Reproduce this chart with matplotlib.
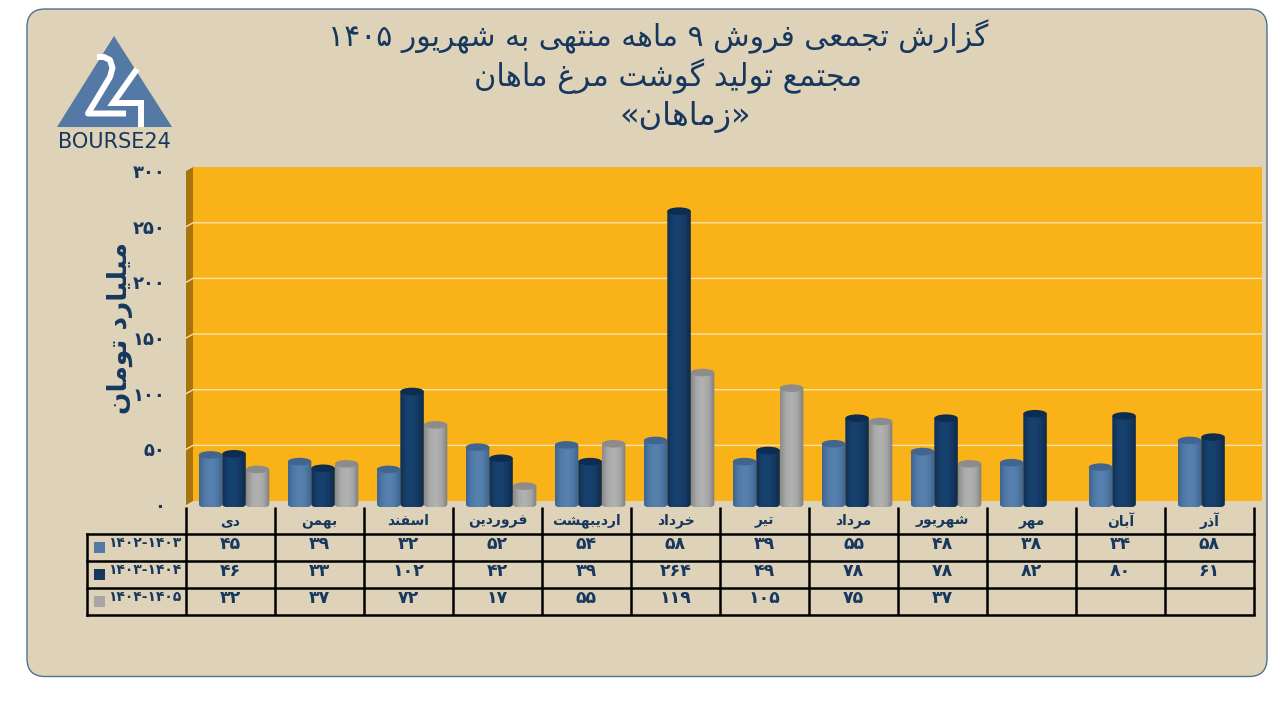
import numpy as np
import matplotlib
matplotlib.use('Agg')
import matplotlib.pyplot as plt
from matplotlib.colors import LinearSegmentedColormap
from matplotlib.patches import FancyBboxPatch, Polygon, Rectangle, Ellipse
from matplotlib.path import Path

months = ['دی', 'بهمن', 'اسفند', 'فروردین', 'اردیبهشت', 'خرداد', 'تیر', 'مرداد', 'شهریور', 'مهر', 'آبان', 'آذر']
series_names = ['1402-1403', '1403-1404', '1404-1405']
sales_1 = [45, 39, 32, 52, 54, 58, 39, 55, 48, 38, 34, 58]
sales_2 = [46, 33, 102, 42, 39, 264, 49, 78, 78, 82, 80, 61]
sales_3 = [32, 37, 72, 17, 55, 119, 105, 75, 37, None, None, None]
y_ticks = [0, 50, 100, 150, 200, 250, 300]
title_lines = ['گزارش تجمعی فروش ۹ ماهه منتهی به شهریور ۱۴۰۵', 'مجتمع تولید گوشت مرغ ماهان', '«زماهان»']
y_label = 'میلیارد تومان'

NAVY = '#17375E'
BG = '#DED3B8'

# presentation forms: isolated, final, initial, medial (two forms = no joining to the next letter)
FORMS = {
    'ا': 'ﺍﺎ', 'آ': 'ﺁﺂ', 'د': 'ﺩﺪ', 'ذ': 'ﺫﺬ', 'ر': 'ﺭﺮ', 'ز': 'ﺯﺰ', 'و': 'ﻭﻮ',
    'ب': 'ﺏﺐﺑﺒ', 'پ': 'ﭖﭗﭘﭙ', 'ت': 'ﺕﺖﺗﺘ', 'ج': 'ﺝﺞﺟﺠ', 'خ': 'ﺥﺦﺧﺨ', 'س': 'ﺱﺲﺳﺴ',
    'ش': 'ﺵﺶﺷﺸ', 'ع': 'ﻉﻊﻋﻌ', 'ف': 'ﻑﻒﻓﻔ', 'ق': 'ﻕﻖﻗﻘ', 'ک': 'ﮎﮏﮐﮑ', 'گ': 'ﮒﮓﮔﮕ',
    'ل': 'ﻝﻞﻟﻠ', 'م': 'ﻡﻢﻣﻤ', 'ن': 'ﻥﻦﻧﻨ', 'ه': 'ﻩﻪﻫﻬ', 'ی': 'ﯼﯽﯾﯿ',
}
MIRROR = {'«': '»', '»': '«'}


def fa_digits(value):
    return str(value).translate(str.maketrans('0123456789', '۰۱۲۳۴۵۶۷۸۹'))


# matplotlib has no shaping or bidi, so join the letters and lay them out right to left
def shape(text):
    words = []
    for word in text.split(' '):
        out = ''
        for i, ch in enumerate(word):
            forms = FORMS.get(ch)
            if forms is None:
                out += MIRROR.get(ch, ch)
                continue
            prev = FORMS.get(word[i - 1]) if i > 0 else None
            nxt = FORMS.get(word[i + 1]) if i < len(word) - 1 else None
            join_prev = prev is not None and len(prev) == 4
            join_next = nxt is not None and len(forms) == 4
            if join_prev and join_next:
                out += forms[3]
            elif join_next:
                out += forms[2]
            elif join_prev:
                out += forms[1]
            else:
                out += forms[0]
        if not any(c in FORMS or c in MIRROR for c in word):
            words.append(out)
        else:
            words.append(out[::-1])
    return ' '.join(words[::-1])


fig = plt.figure(figsize=(12.8, 7.2), dpi=100, facecolor='white')

# background layer in pixel coordinates: card, logo, titles, table
bg = fig.add_axes([0, 0, 1, 1], zorder=0)
bg.set_xlim(0, 1280)
bg.set_ylim(720, 0)
bg.axis('off')

bg.add_patch(FancyBboxPatch((27, 9), 1240, 667.5, boxstyle='round,pad=0,rounding_size=18',
                            fc=BG, ec='#4F7290', lw=1))

# logo
bg.add_patch(Polygon([(114, 36), (172, 127), (57, 127)], fc='#5479A5', ec='none'))
bg.plot([97, 104, 110, 112.5, 110, 88, 126], [57, 57, 60, 68, 77, 113.5, 113.5], color='white', lw=4.3,
        solid_joinstyle='round', solid_capstyle='butt')
bg.plot([137, 113, 141, 141], [69, 103, 103, 127], color='white', lw=4.3,
        solid_joinstyle='miter', solid_capstyle='butt')
bg.text(114, 142, 'BOURSE24', color=NAVY, fontsize=15, ha='center', va='center')

# titles
bg.text(658, 37, shape(title_lines[0]), color=NAVY, fontsize=21.5, ha='center', va='center')
bg.text(668, 76, shape(title_lines[1]), color=NAVY, fontsize=22, ha='center', va='center')
bg.text(685, 117, shape(title_lines[2]), color=NAVY, fontsize=23, ha='center', va='center')

bg.text(120, 328, shape(y_label), color=NAVY, fontsize=19, fontweight='bold',
        rotation=90, ha='center', va='center')

# data table under the chart
CELL = 89
X0 = 186
row_lines = [534, 561, 588, 615]
for y in row_lines:
    bg.plot([87, X0 + 12 * CELL], [y, y], color='black', lw=1.8, solid_capstyle='projecting')
bg.plot([87, 87], [534, 615], color='black', lw=1.8)
for i in range(13):
    bg.plot([X0 + i * CELL] * 2, [507, 615], color='black', lw=1.8, solid_capstyle='butt')

series = [sales_1, sales_2, sales_3]
swatch_colors = ['#5479A5', '#17375E', '#A6A6A6']
for r, values in enumerate(series):
    y_mid = row_lines[r] + 10
    bg.add_patch(Rectangle((94, row_lines[r] + 8), 11, 11, fc=swatch_colors[r], ec='none'))
    bg.text(145, y_mid - 1, fa_digits(series_names[r]), color=NAVY, fontsize=10, fontweight='bold', ha='center', va='center')
    for i, v in enumerate(values):
        if v is not None:
            bg.text(X0 + (i + 0.5) * CELL, y_mid, fa_digits(v), color=NAVY, fontsize=12.5,
                    fontweight='bold', ha='center', va='center')
for i, m in enumerate(months):
    bg.text(X0 + (i + 0.5) * CELL, 521, shape(m), color=NAVY, fontsize=10, fontweight='bold', ha='center', va='center')

# chart layer: one x unit is a table cell, y = 0 sits on the front edge of the floor
ax = fig.add_axes([186 / 1280, 1 - 507 / 720, (1262 - 186) / 1280, (507 - 167) / 720], zorder=1)
ax.patch.set_alpha(0)
PX_Y = 1.113
xmin, xmax = -0.5, (1262 - 186) / CELL - 0.5
ylim = (-2 / PX_Y, 338 / PX_Y)
DX, DY = 7 / CELL, 4 / PX_Y

ax.add_patch(Rectangle((xmin + DX, DY), xmax - xmin - DX, 300, fc='#FAB219', ec='none', zorder=1))
ax.add_patch(Polygon([(xmin, 0), (xmin + DX, DY), (xmin + DX, 300 + DY), (xmin, 300)], fc='#A8740E', ec='none', zorder=1))
for t in y_ticks[1:-1]:
    ax.plot([xmin, xmin + DX, xmax], [t, t + DY, t + DY], color='#F8E0A8', lw=1.0, zorder=2)

bar_w = 23.5 / CELL
offsets = [-23.5 / CELL + 0.04, 0.04, 23.5 / CELL + 0.04]
body_cmaps = [
    LinearSegmentedColormap.from_list('s1', ['#3F6590', '#507BA9', '#5782B0', '#507AA6', '#3D618B']),
    LinearSegmentedColormap.from_list('s2', ['#102E52', '#16406D', '#17416F', '#143A64', '#0E2A4A']),
    LinearSegmentedColormap.from_list('s3', ['#8A8A8A', '#AAAAAA', '#B2B2B2', '#A6A6A6', '#7C7C7C']),
]
top_colors = ['#41658F', '#0E2C50', '#8C8C8C']
gradient = np.linspace(0, 1, 64).reshape(1, -1)
ry = 3.4
base = 0.5
theta = np.linspace(np.pi, 2 * np.pi, 30)

for s, values in enumerate(series):
    for i, v in enumerate(values):
        if v is None:
            continue
        x0 = i + offsets[s] - bar_w / 2
        xc = i + offsets[s]
        arc_x = xc + bar_w / 2 * np.cos(theta)
        arc_y = base + ry * np.sin(theta)
        verts = np.column_stack([np.r_[x0, arc_x, x0 + bar_w, x0], np.r_[v, arc_y, v, v]])
        im = ax.imshow(gradient, cmap=body_cmaps[s], extent=(x0, x0 + bar_w, -5, v), aspect='auto',
                       zorder=3 + s, interpolation='bilinear')
        im.set_clip_path(Path(verts), transform=ax.transData)
        ax.add_patch(Ellipse((xc, v), bar_w, 2 * ry, fc=top_colors[s], ec='none', zorder=3 + s, clip_on=False))

ax.set_xlim(xmin, xmax)
ax.set_ylim(*ylim)
ax.set_xticks([])
ax.set_yticks(y_ticks)
ax.set_yticklabels([fa_digits(t) for t in y_ticks], color=NAVY, fontsize=13, fontweight='bold')
ax.tick_params(axis='y', length=0, pad=15)
for spine in ax.spines.values():
    spine.set_visible(False)

fig.savefig('out.png', dpi=100)
